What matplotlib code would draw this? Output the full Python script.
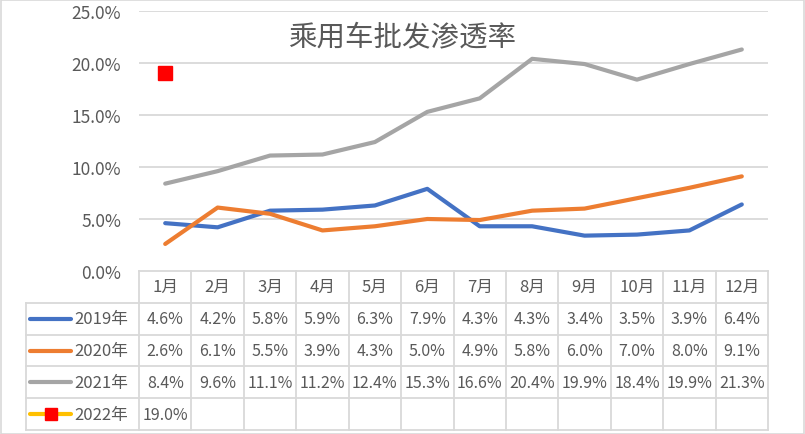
import numpy as np
import matplotlib.pyplot as plt
from matplotlib.patches import Rectangle

plt.rcParams['font.family'] = ['Noto Sans CJK SC', 'DejaVu Sans']

months = ['1月', '2月', '3月', '4月', '5月', '6月', '7月', '8月', '9月', '10月', '11月', '12月']
years = ['2019年', '2020年', '2021年', '2022年']
v2019 = [4.6, 4.2, 5.8, 5.9, 6.3, 7.9, 4.3, 4.3, 3.4, 3.5, 3.9, 6.4]
v2020 = [2.6, 6.1, 5.5, 3.9, 4.3, 5.0, 4.9, 5.8, 6.0, 7.0, 8.0, 9.1]
v2021 = [8.4, 9.6, 11.1, 11.2, 12.4, 15.3, 16.6, 20.4, 19.9, 18.4, 19.9, 21.3]
v2022 = [19.0]
yticks = [0, 5, 10, 15, 20, 25]

txt = '#595959'
grid = '#d9d9d9'
W, H = 805, 435
fig = plt.figure(figsize=(W / 100, H / 100), dpi=100)
fig.patches.append(Rectangle((0.5 / W, 0.5 / H), 1 - 1.5 / W, 1 - 1.5 / H, transform=fig.transFigure,
                             fill=False, edgecolor=grid, lw=1.2))

# plot area in pixels
x0, x1 = 139, 768
ytop, ybot = 12, 272
ax = fig.add_axes([x0 / W, 1 - ybot / H, (x1 - x0) / W, (ybot - ytop) / H])
xs = np.arange(12) + 0.5
ax.plot(xs, v2019, color='#4472C4', lw=3, solid_capstyle='round', zorder=3)
ax.plot(xs, v2020, color='#ED7D31', lw=3, solid_capstyle='round', zorder=3)
ax.plot(xs, v2021, color='#A5A5A5', lw=3, solid_capstyle='round', zorder=3)
ax.plot(xs[:len(v2022)], v2022, color='#FFC000', lw=3, marker='s', ms=10,
        mfc='#FF0000', mec='#FF0000', zorder=4)
ax.set_xlim(0, 12)
ax.set_ylim(0, 25)
ax.set_yticks(yticks)
ax.set_yticklabels([f'{t:.1f}%' for t in yticks], color=txt, fontsize=12.5)
ax.tick_params(axis='y', length=0, pad=13)
ax.set_xticks([])
for s in ax.spines.values():
    s.set_visible(False)
for t in yticks[1:]:
    ax.axhline(t, color=grid, lw=1.3, zorder=1)
fig.text(402 / W, 1 - 37 / H, '乘用车批发渗透率', ha='center', va='center', color=txt,
         fontsize=20.5, fontweight='medium')

# data table
tl = 26
ncol_leg = (x0 - tl) / ((x1 - x0) / 12)
tb = 431
tax = fig.add_axes([tl / W, 1 - tb / H, (x1 - tl) / W, (tb - ybot) / H])
tax.set_xlim(-ncol_leg, 12)
tax.set_ylim(5, 0)
tax.axis('off')
lk = dict(color=grid, lw=1.3, clip_on=False)
tax.plot([0, 12], [0, 0], **lk)
for r in range(1, 6):
    tax.plot([-ncol_leg, 12], [r, r], **lk)
for c in range(13):
    tax.plot([c, c], [0, 5], **lk)
tax.plot([-ncol_leg, -ncol_leg], [1, 5], **lk)
for i, m in enumerate(months):
    tax.text(i + 0.5, 0.5, m, ha='center', va='center', color=txt, fontsize=12)
series = [v2019, v2020, v2021, v2022]
colors = ['#4472C4', '#ED7D31', '#A5A5A5', '#FFC000']
for r, (name, vals, c) in enumerate(zip(years, series, colors)):
    y = r + 1.5
    tax.plot([-ncol_leg + 0.08, -ncol_leg + 0.86], [y, y], color=c, lw=3, solid_capstyle='round')
    if name == '2022年':
        tax.plot([-ncol_leg + 0.47], [y], marker='s', ms=8, color='#FF0000')
    tax.text(-ncol_leg + 0.92, y, name, ha='left', va='center', color=txt, fontsize=12)
    for i, v in enumerate(vals):
        tax.text(i + 0.5, y, f'{v:.1f}%', ha='center', va='center', color=txt, fontsize=11.5)

fig.savefig('out.png', dpi=100)
